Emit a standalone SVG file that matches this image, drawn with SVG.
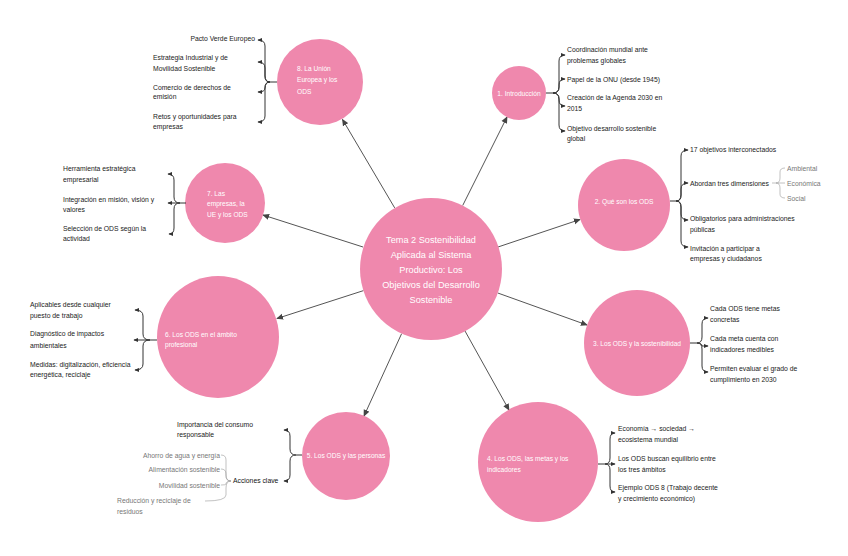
<svg xmlns="http://www.w3.org/2000/svg" width="848" height="556" viewBox="0 0 848 556">
<defs>
<style>
.n{fill:#ef88ad}
.t{font-family:"Liberation Sans",Arial,sans-serif;font-size:6.8px;fill:#222}
.s{font-family:"Liberation Sans",Arial,sans-serif;font-size:6.8px;fill:#777}
.w{font-family:"Liberation Sans",Arial,sans-serif;font-size:6.6px;fill:#fff}
.c{font-family:"Liberation Sans",Arial,sans-serif;font-size:9.2px;fill:#fff;text-anchor:middle}
.m{text-anchor:middle}
.e{text-anchor:end}
.conn{stroke:#555;stroke-width:1;fill:none;marker-end:url(#ah)}
.br{stroke:#333;stroke-width:1;fill:none;marker-end:url(#bh)}
.st{stroke:#333;stroke-width:1;fill:none}
.sb{stroke:#999;stroke-width:0.6;fill:none}
</style>
<marker id="ah" viewBox="0 0 8 8" refX="7" refY="4" markerWidth="7" markerHeight="7" markerUnits="userSpaceOnUse" orient="auto"><path d="M0,0.5 L8,4 L0,7.5 z" fill="#444"/></marker>
<marker id="bh" viewBox="0 0 8 8" refX="7" refY="4" markerWidth="5" markerHeight="5" markerUnits="userSpaceOnUse" orient="auto"><path d="M0,0.5 L8,4 L0,7.5 z" fill="#333"/></marker>
</defs>
<rect width="848" height="556" fill="#fff"/>

<g id="connectors">
<line class="conn" x1="394.7" y1="207.9" x2="342.5" y2="119.5"/>
<line class="conn" x1="462.7" y1="205.5" x2="507" y2="117"/>
<line class="conn" x1="363" y1="247" x2="263" y2="215"/>
<line class="conn" x1="498" y1="247" x2="580" y2="219.5"/>
<line class="conn" x1="363.5" y1="290.6" x2="277" y2="318.5"/>
<line class="conn" x1="497.8" y1="293" x2="587" y2="325"/>
<line class="conn" x1="401.6" y1="333.7" x2="364" y2="416"/>
<line class="conn" x1="465" y1="331" x2="509" y2="410"/>
</g>

<g id="center">
<circle class="n" cx="431" cy="269" r="71"/>
<text class="c" x="431" y="243">Tema 2 Sostenibilidad</text>
<text class="c" x="431" y="258">Aplicada al Sistema</text>
<text class="c" x="431" y="273">Productivo: Los</text>
<text class="c" x="431" y="288">Objetivos del Desarrollo</text>
<text class="c" x="431" y="303">Sostenible</text>
</g>

<g id="node1">
<circle class="n" cx="519" cy="93" r="27"/>
<text class="w m" x="519" y="96">1. Introducción</text>
<path class="st" d="M546,93 L553,93"/>
<path class="br" d="M553,93 Q559,93 559,87 L559,61 Q559,55 565,55"/>
<path class="br" d="M553,93 Q559,93 559,87 L559,85 Q559,79 565,79"/>
<path class="br" d="M553,93 Q559,93 559,99 L559,100 Q559,106 565,106"/>
<path class="br" d="M553,93 Q559,93 559,99 L559,125 Q559,131 565,131"/>
<text class="t" x="567" y="51.5">Coordinación mundial ante</text>
<text class="t" x="567" y="62.5">problemas globales</text>
<text class="t" x="567" y="81.5">Papel de la ONU (desde 1945)</text>
<text class="t" x="567" y="99.5">Creación de la Agenda 2030 en</text>
<text class="t" x="567" y="110.5">2015</text>
<text class="t" x="567" y="130.5">Objetivo desarrollo sostenible</text>
<text class="t" x="567" y="141">global</text>
</g>

<g id="node2">
<circle class="n" cx="624" cy="205" r="46"/>
<text class="w m" x="624" y="204">2. Qué son los ODS</text>
<path class="st" d="M670,201 L676,201"/>
<path class="br" d="M676,201 Q681,201 681,195 L681,156 Q681,150 688,150"/>
<path class="br" d="M676,201 Q681,201 681,195 L681,189 Q681,183 688,183"/>
<path class="br" d="M676,201 Q681,201 681,207 L681,214 Q681,220 688,220"/>
<path class="br" d="M676,201 Q681,201 681,207 L681,241 Q681,247 688,247"/>
<text class="t" x="690" y="151.5">17 objetivos interconectados</text>
<text class="t" x="690" y="185.5">Abordan tres dimensiones</text>
<text class="t" x="690" y="220.5">Obligatorios para administraciones</text>
<text class="t" x="690" y="231.5">públicas</text>
<text class="t" x="690" y="250.5">Invitación a participar a</text>
<text class="t" x="690" y="260.5">empresas y ciudadanos</text>
<path class="sb" d="M772,183 L785,183"/>
<path class="sb" d="M776,183 Q780,183 780,178 L780,172 Q780,168 785,168"/>
<path class="sb" d="M776,183 Q780,183 780,188 L780,194 Q780,198 785,198"/>
<text class="s" x="787" y="170.5">Ambiental</text>
<text class="s" x="787" y="185.5">Económica</text>
<text class="s" x="787" y="200.5">Social</text>
</g>

<g id="node3">
<circle class="n" cx="637" cy="343" r="53"/>
<text class="w m" x="637" y="345.5">3. Los ODS y la sostenibilidad</text>
<path class="st" d="M690,343 L697,343"/>
<path class="br" d="M697,343 Q702,343 702,337 L702,324 Q702,318 708,318"/>
<path class="br" d="M697,343 Q702,343 702,346 Q702,346 708,346"/>
<path class="br" d="M697,343 Q702,343 702,349 L702,366 Q702,372 708,372"/>
<text class="t" x="710" y="310.5">Cada ODS tiene metas</text>
<text class="t" x="710" y="321.5">concretas</text>
<text class="t" x="710" y="340.5">Cada meta cuenta con</text>
<text class="t" x="710" y="351.5">indicadores medibles</text>
<text class="t" x="710" y="370.5">Permiten evaluar el grado de</text>
<text class="t" x="710" y="381.5">cumplimiento en 2030</text>
</g>

<g id="node4">
<circle class="n" cx="538" cy="462" r="60"/>
<text class="w" x="487" y="460.5">4. Los ODS, las metas y los</text>
<text class="w" x="487" y="471.5">indicadores</text>
<path class="st" d="M598,464 L605,464"/>
<path class="br" d="M605,464 Q610,464 610,458 L610,439 Q610,433 615,433"/>
<path class="br" d="M605,464 L615,464"/>
<path class="br" d="M605,464 Q610,464 610,470 L610,486 Q610,492 615,492"/>
<text class="t" x="618" y="430.5">Economía → sociedad →</text>
<text class="t" x="618" y="441.5">ecosistema mundial</text>
<text class="t" x="618" y="460.5">Los ODS buscan equilibrio entre</text>
<text class="t" x="618" y="471.5">los tres ámbitos</text>
<text class="t" x="618" y="489.5">Ejemplo ODS 8 (Trabajo decente</text>
<text class="t" x="618" y="500.5">y crecimiento económico)</text>
</g>

<g id="node5">
<circle class="n" cx="346" cy="456" r="44"/>
<text class="w m" x="346" y="458">5. Los ODS y las personas</text>
<path class="st" d="M302,455 L296,455"/>
<path class="br" d="M296,455 Q290,455 290,449 L290,436 Q290,430 284,430"/>
<path class="br" d="M296,455 Q290,455 290,461 L290,475 Q290,481 284,481"/>
<text class="t" x="177" y="426.5">Importancia del consumo</text>
<text class="t" x="177" y="437">responsable</text>
<text class="t" x="233" y="483" style="fill:#111">Acciones clave</text>
<path class="sb" d="M231,481 Q226,481 226,475 L226,460 Q226,455 221,455"/>
<path class="sb" d="M231,481 Q226,481 226,476 L226,474 Q226,469 221,469"/>
<path class="sb" d="M231,481 Q226,481 226,484 Q226,485 221,485"/>
<path class="sb" d="M231,481 Q226,481 226,488 L226,495 Q226,501 205,501"/>
<text class="s e" x="220" y="457.5">Ahorro de agua y energía</text>
<text class="s e" x="220" y="471.5">Alimentación sostenible</text>
<text class="s e" x="220" y="487.5">Movilidad sostenible</text>
<text class="s" x="117" y="502.5">Reducción y reciclaje de</text>
<text class="s" x="117" y="513.5">residuos</text>
</g>

<g id="node6">
<circle class="n" cx="218" cy="337" r="61"/>
<text class="w" x="165" y="336.5">6. Los ODS en el ámbito</text>
<text class="w" x="165" y="347">profesional</text>
<path class="st" d="M157,340 L150,340"/>
<path class="br" d="M150,340 Q143,340 143,334 L143,316 Q143,310 135,310"/>
<path class="br" d="M150,340 L134,340"/>
<path class="br" d="M150,340 Q143,340 143,346 L143,364 Q143,370 135,370"/>
<text class="t" x="30" y="306.5">Aplicables desde cualquier</text>
<text class="t" x="30" y="317.5">puesto de trabajo</text>
<text class="t" x="30" y="335.5">Diagnóstico de impactos</text>
<text class="t" x="30" y="347.5">ambientales</text>
<text class="t" x="30" y="366.5">Medidas: digitalización, eficiencia</text>
<text class="t" x="30" y="376.5">energética, reciclaje</text>
</g>

<g id="node7">
<circle class="n" cx="225" cy="203" r="40"/>
<text class="w" x="207" y="195.5">7. Las</text>
<text class="w" x="207" y="206">empresas, la</text>
<text class="w" x="207" y="216.5">UE y los ODS</text>
<path class="st" d="M186,203 L180,203"/>
<path class="br" d="M180,203 Q174,203 174,197 L174,180 Q174,174 168,174"/>
<path class="br" d="M180,203 L168,203"/>
<path class="br" d="M180,203 Q174,203 174,209 L174,228 Q174,234 169,234"/>
<text class="t" x="63" y="170.5">Herramienta estratégica</text>
<text class="t" x="63" y="181.5">empresarial</text>
<text class="t" x="63" y="201.5">Integración en misión, visión y</text>
<text class="t" x="63" y="211.5">valores</text>
<text class="t" x="63" y="230.5">Selección de ODS según la</text>
<text class="t" x="63" y="240.5">actividad</text>
</g>

<g id="node8">
<circle class="n" cx="320" cy="82" r="43"/>
<text class="w" x="297" y="70.5">8. La Unión</text>
<text class="w" x="297" y="82">Europea y los</text>
<text class="w" x="297" y="93.5">ODS</text>
<path class="st" d="M277,82 L270,82"/>
<path class="br" d="M270,82 Q265,82 265,76 L265,46 Q265,40 258,40"/>
<path class="br" d="M270,82 Q265,82 265,76 L265,68 Q265,62 258,62"/>
<path class="br" d="M270,82 Q265,82 265,88 Q265,92 258,92"/>
<path class="br" d="M270,82 Q265,82 265,88 L265,116 Q265,122 258,122"/>
<text class="t e" x="255" y="40.5">Pacto Verde Europeo</text>
<text class="t" x="153" y="59.5">Estrategia Industrial y de</text>
<text class="t" x="153" y="70.5">Movilidad Sostenible</text>
<text class="t" x="153" y="89.5">Comercio de derechos de</text>
<text class="t" x="153" y="98.5">emisión</text>
<text class="t" x="153" y="118.5">Retos y oportunidades para</text>
<text class="t" x="153" y="128.5">empresas</text>
</g>
</svg>
